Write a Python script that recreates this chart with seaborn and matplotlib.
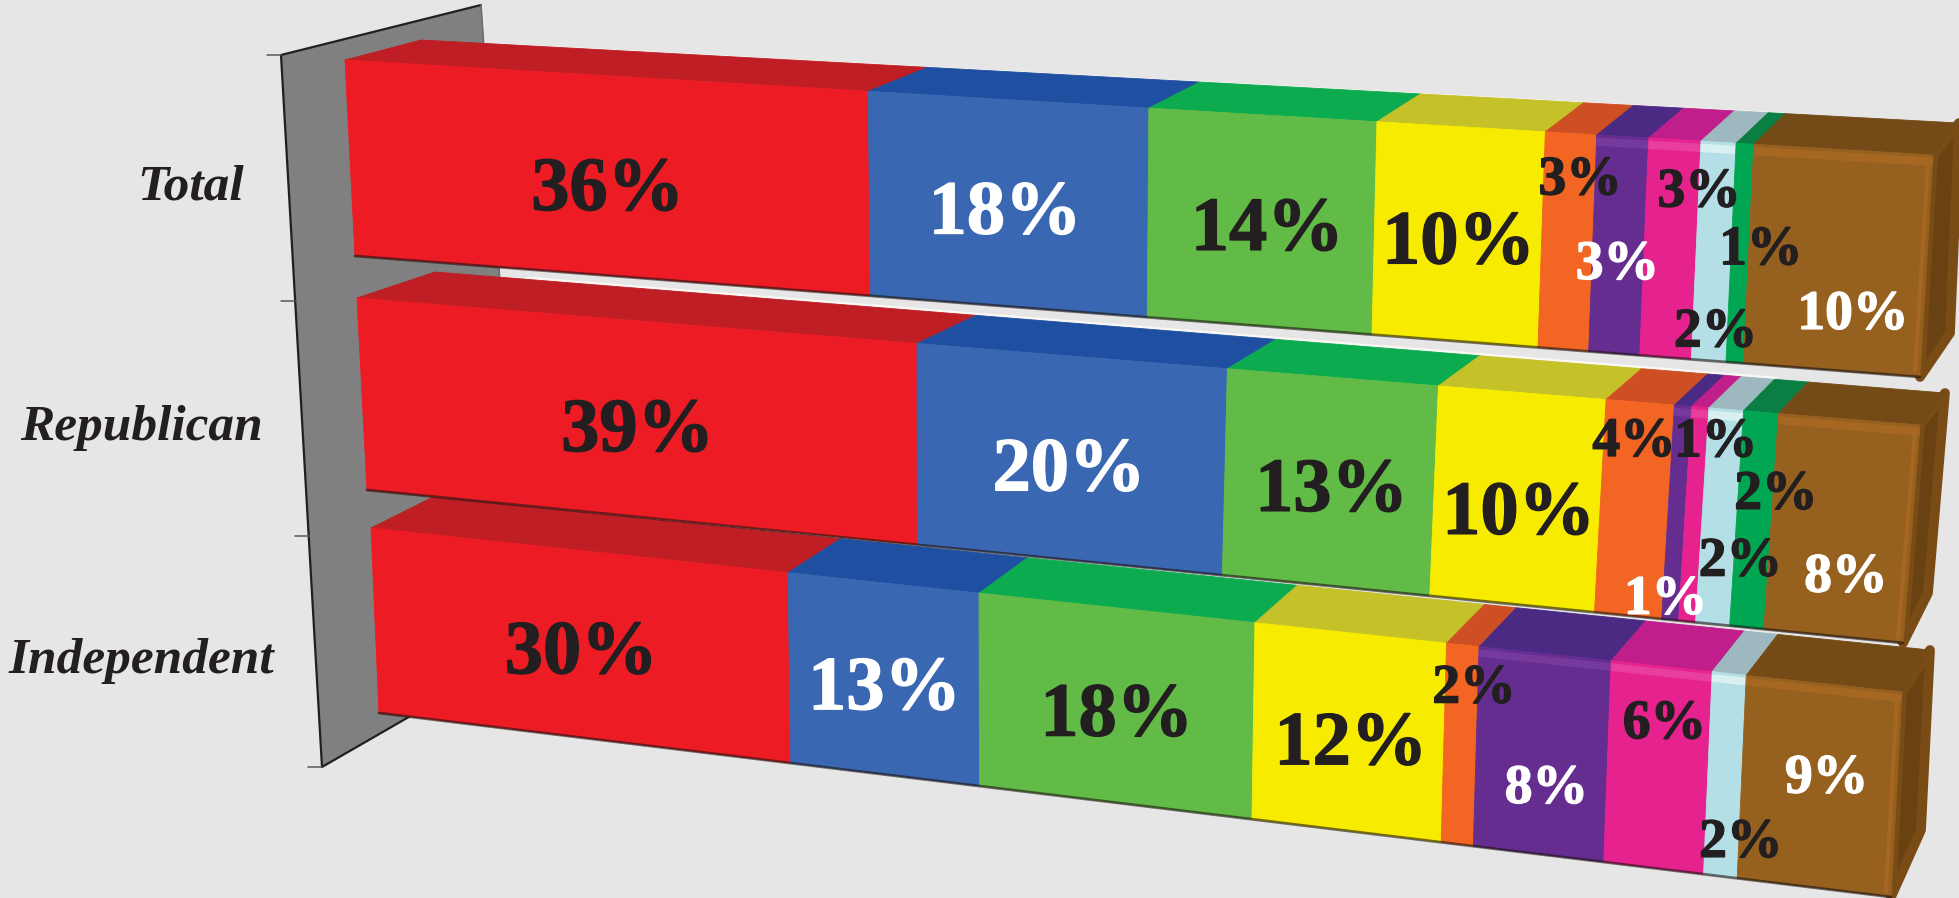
"""
plot.py - 3D-looking stacked bars (party breakdown) drawn on a perspective frame
"""

import matplotlib
matplotlib.use("Agg")
import matplotlib.pyplot as plt
import matplotlib.patheffects as pe
import numpy as np
import pandas as pd
import seaborn as sns

# Data
rows = ["Total", "Republican", "Independent"]
total_values = [36, 18, 14, 10, 3, 3, 3, 2, 1, 10]
republican_values = [39, 20, 13, 10, 4, 1, 1, 2, 2, 8]
independent_values = [30, 13, 18, 12, 2, 8, 6, 2, 0, 9]
segments = ["s1", "s2", "s3", "s4", "s5", "s6", "s7", "s8", "s9", "s10"]

# Colours per segment
front_colors = ["#ED1C24", "#3A67B1", "#62BB46", "#F7EC00", "#F26522",
                "#662D91", "#E6228F", "#B5DFE6", "#00A651", "#96601F"]
top_colors = ["#BE1E24", "#1F4FA0", "#0DAB4F", "#C5C128", "#CE4F23",
              "#4B2A84", "#C01E8B", "#9EB8BF", "#0B7F43", "#744A17"]
white_label = {"s2", "s6", "s10"}
bevel = {"s6": "#753A9B", "s7": "#EA3E9E", "s8": "#D8F0F2", "s10": "#A56722"}
ink = "#231F20"
background = "#E6E6E6"

# Perspective frame of each bar, in figure pixels (y down)
frames = {
    "Total": dict(tl=(345, 60), tr=(1933, 155), br=(1920, 377), bl=(355, 256),
                  depth_l=(76, -20), depth_r=(26, -32), cap_low=(30, -44), rim=1.5),
    "Republican": dict(tl=(357, 298), tr=(1920, 425), br=(1903, 643), bl=(367, 490),
                       depth_l=(78, -26), depth_r=(25, -32), cap_low=(25, -50), rim=4),
    "Independent": dict(tl=(371, 528), tr=(1902, 692), br=(1891, 897), bl=(379, 713),
                        depth_l=(62, -31), depth_r=(28, -42), cap_low=(30, -67), rim=0),
}
foreshortening = 1.145

# Where each value label sits relative to the middle of its segment
label_nudges = {
    "Total": [(1, 11), (-5, 7), (4, 6), (-2, 6), (10, -66), (-4, 15), (26, -61),
              (-1, 76), (18, -8), (13, 50)],
    "Republican": [(2, 9), (-3, 9), (0, 6), (-1, 12), (-3, -72), (-14, 82), (19, -77),
                   (18, 40), (19, -30), (2, 45)],
    "Independent": [(0, 6), (-2, 7), (-1, 7), (0, 9), (11, -61), (2, 30), (4, -48),
                    (13, 63), (0, 0), (5, -12)],
}
row_label_xy = {"Total": (191, 187), "Republican": (141, 428), "Independent": (141, 661)}


def along(value):
    # share of the bar's screen length reached at a given percent
    t = np.asarray(value, dtype=float) / 100.0
    return t / (t + foreshortening * (1 - t))


def front_point(frame, value, h):
    f = along(value)
    top = (1 - f) * np.array(frame["tl"]) + f * np.array(frame["tr"])
    bottom = (1 - f) * np.array(frame["bl"]) + f * np.array(frame["br"])
    return (1 - h) * top + h * bottom


def back_point(frame, value):
    f = along(value)
    offset = (1 - f) * np.array(frame["depth_l"]) + f * np.array(frame["depth_r"])
    return front_point(frame, value, 0) + offset


def fill(ax, points, color, edge=None, linewidth=0.6):
    xy = np.array(points)
    ax.fill(xy[:, 0], xy[:, 1], facecolor=color, edgecolor=edge or color,
            linewidth=linewidth, joinstyle="round", zorder=2)


def line(ax, points, color, lw, alpha=1.0):
    xy = np.array(points)
    ax.plot(xy[:, 0], xy[:, 1], color=color, lw=lw, alpha=alpha, zorder=2,
            solid_capstyle="round")


def draw_wall(ax):
    # grey back wall, its far edge is hidden by the bars
    wall = np.array([(281, 55), (481, 5), (525, 650), (322, 767)])
    fill(ax, wall, "#808080")
    line(ax, wall[[2, 3, 0, 1]], ink, 1.6)
    line(ax, wall[[1, 2]], "#6E6E6E", 1.2)
    for share in [0, 0.345, 0.676, 1]:
        x = wall[0, 0] + share * (wall[3, 0] - wall[0, 0])
        y = wall[0, 1] + share * (wall[3, 1] - wall[0, 1])
        line(ax, [(x - 14, y), (x, y)], "#595959", 1.1)


def draw_bar(ax, data, row):
    frame = frames[row]
    part = data[data["row"] == row]

    # white rim behind the far edge of the top face
    if frame["rim"]:
        line(ax, [back_point(frame, 7), back_point(frame, 90)], "#FAF7F5", frame["rim"])

    # right end cap of the last (brown) segment, rounded by a thick edge
    tr, br = np.array(frame["tr"]), np.array(frame["br"])
    fill(ax, [tr, back_point(frame, 100), br + np.array(frame["cap_low"]), br],
         "#6A4212", edge="#7A4C15", linewidth=7)

    for _, seg in part.iterrows():
        if seg["value"] == 0:
            continue
        a, b = seg["start"], seg["end"]
        fill(ax, [front_point(frame, a, 0), front_point(frame, b, 0),
                  back_point(frame, b), back_point(frame, a)], seg["top"])
        fill(ax, [front_point(frame, a, 0), front_point(frame, b, 0),
                  front_point(frame, b, 1), front_point(frame, a, 1)], seg["front"])
        if seg["segment"] in bevel:
            fill(ax, [front_point(frame, a, 0.012), front_point(frame, b, 0.012),
                      front_point(frame, b, 0.05), front_point(frame, a, 0.05)],
                 bevel[seg["segment"]], linewidth=0)

    # soft highlight down the right edge of the front face
    line(ax, [tr + np.array([-5, 8]), br + np.array([-5, -6])], "#A56722", 3)
    # dark contact shadow under the bar
    line(ax, [front_point(frame, v, 1) for v in [0, 50, 100]], "#1A1210", 2, alpha=0.6)


def draw_labels(ax, data, row):
    frame = frames[row]
    part = data[data["row"] == row].reset_index(drop=True)
    for i, seg in part.iterrows():
        if seg["value"] == 0:
            continue
        mid = front_point(frame, (seg["start"] + seg["end"]) / 2, 0.5)
        dx, dy = label_nudges[row][i]
        big = seg["value"] >= 10 and seg["segment"] != "s10"
        color = "white" if seg["segment"] in white_label else ink
        label = ax.text(mid[0] + dx + 3, mid[1] + dy + 5, f"{seg['value']}%", color=color,
                        fontsize=55 if big else 40, fontweight="bold",
                        family="Liberation Serif", ha="center", va="center", zorder=5)
        label.set_path_effects([pe.withStroke(linewidth=1, foreground=color)])
    x, y = row_label_xy[row]
    ax.text(x, y, row, color=ink, fontsize=37, fontweight="bold", fontstyle="italic",
            family="Liberation Serif", ha="center", va="center", zorder=5)


def main():
    sns.set_theme(style="white", rc={"figure.facecolor": background,
                                     "axes.facecolor": background})

    series = {"Total": total_values, "Republican": republican_values,
              "Independent": independent_values}
    records = []
    for row in rows:
        ends = np.cumsum(series[row])
        for i, seg in enumerate(segments):
            records.append({"row": row, "segment": seg, "value": series[row][i],
                            "start": ends[i] - series[row][i], "end": ends[i],
                            "front": sns.color_palette(front_colors)[i],
                            "top": sns.color_palette(top_colors)[i]})
    data = pd.DataFrame(records)

    fig, ax = plt.subplots(figsize=(19.59, 8.98), dpi=100)
    fig.subplots_adjust(left=0, right=1, bottom=0, top=1)
    ax.set_xlim(0, 1959)
    ax.set_ylim(898, 0)
    ax.axis("off")

    draw_wall(ax)
    # the nearer bars lie under the ones above them
    for row in reversed(rows):
        draw_bar(ax, data, row)
    for row in rows:
        draw_labels(ax, data, row)

    fig.savefig("out.png", dpi=100, facecolor=background)


if __name__ == "__main__":
    main()
